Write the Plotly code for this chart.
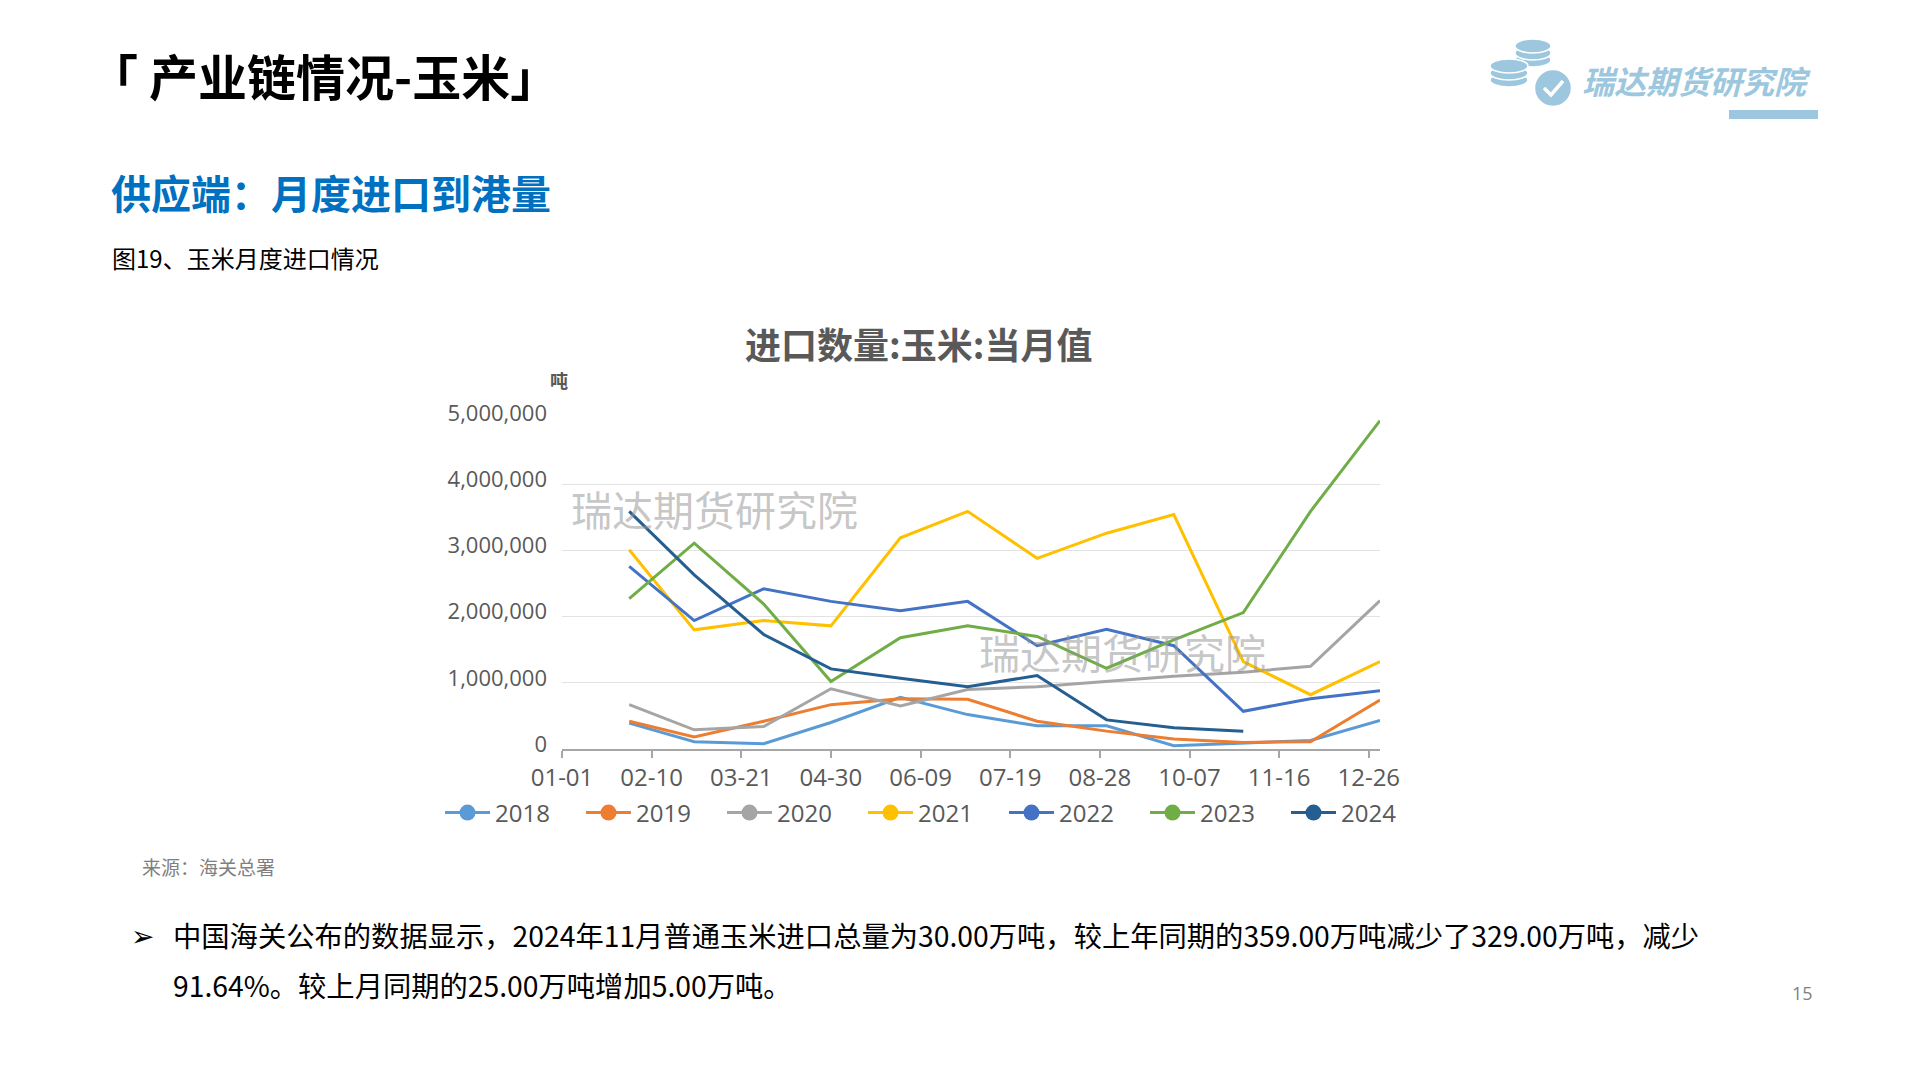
import plotly.graph_objects as go

# ---------------- data ----------------
months = ["2024-01-31", "2024-02-29", "2024-03-31", "2024-04-30", "2024-05-31", "2024-06-30",
          "2024-07-31", "2024-08-31", "2024-09-30", "2024-10-31", "2024-11-30", "2024-12-31"]

y2018 = [390000, 110000, 80000, 400000, 780000, 520000, 350000, 350000, 50000, 90000, 130000, 430000]
y2019 = [420000, 180000, 420000, 670000, 760000, 750000, 420000, 270000, 150000, 100000, 110000, 740000]
y2020 = [670000, 290000, 340000, 910000, 650000, 900000, 940000, 1020000, 1100000, 1160000, 1250000, 2240000]
y2021 = [3010000, 1800000, 1940000, 1860000, 3190000, 3590000, 2880000, 3260000, 3540000, 1320000, 820000, 1320000]
y2022 = [2760000, 1940000, 2420000, 2230000, 2090000, 2230000, 1560000, 1810000, 1560000, 570000, 760000, 880000]
y2023 = [2270000, 3110000, 2190000, 1020000, 1680000, 1860000, 1700000, 1220000, 1650000, 2060000, 3590000, 4960000]
y2024 = [3590000, 2630000, 1730000, 1210000, 1070000, 940000, 1110000, 440000, 320000, 270000, None, None]

series_names = ["2018", "2019", "2020", "2021", "2022", "2023", "2024"]
series_vals = [y2018, y2019, y2020, y2021, y2022, y2023, y2024]
colors = ["#5B9BD5", "#ED7D31", "#A5A5A5", "#FFC000", "#4472C4", "#70AD47", "#255E91"]

# ---------------- layout geometry (pixels) ----------------
W, H = 1920, 1080
L, R, T, B = 562, 1380, 418, 749


def px(x):
    return (x - L) / (R - L)


def py(y):
    return (B - y) / (B - T)


CJK = "Noto Sans CJK SC"
NUM = "Open Sans"

fig = go.Figure()

for name, vals, c in zip(series_names, series_vals, colors):
    fig.add_trace(go.Scatter(
        x=months, y=vals, mode="lines", name=name, legendgroup=name,
        line=dict(color=c, width=3), showlegend=False, connectgaps=False,
        hoverinfo="x+y+name"))
    # legend entry (line + dot)
    fig.add_trace(go.Scatter(
        x=[None], y=[None], mode="lines+markers", name=name, legendgroup=name,
        line=dict(color=c, width=3), marker=dict(color=c, size=16),
        showlegend=True))

annotations = []


def add_text(text, x, y, size, color, xanchor="left", family=CJK, weight="normal", style="normal"):
    annotations.append(dict(
        text=text, x=px(x), y=py(y), xref="paper", yref="paper",
        xanchor=xanchor, yanchor="middle", showarrow=False,
        font=dict(family=family, size=size, color=color, weight=weight, style=style)))


# page headings
add_text("「 产业链情况-玉米」", 87, 75, 49, "#000000", weight="bold")
add_text("供应端：月度进口到港量", 109, 192, 40, "#0070C0", weight="bold")
add_text("图19、玉米月度进口情况", 110, 257, 24, "#000000")

# chart title and unit
add_text("进口数量:玉米:当月值", 918, 343, 36, "#595959", xanchor="center", weight="bold")
add_text("吨", 559, 380, 18, "#595959", xanchor="center", weight="bold")

# watermarks
add_text("瑞达期货研究院", 714, 508, 41, "rgba(150,150,150,0.55)", xanchor="center")
add_text("瑞达期货研究院", 1122, 651, 41, "rgba(150,150,150,0.55)", xanchor="center")

# source + bullet text
add_text("来源：海关总署", 140, 866, 19, "#7F7F7F")
add_text("➢", 129, 934, 28, "#000000")
add_text("中国海关公布的数据显示，2024年11月普通玉米进口总量为30.00万吨，较上年同期的359.00万吨减少了329.00万吨，减少",
         171, 934, 28.3, "#000000")
add_text("91.64%。较上月同期的25.00万吨增加5.00万吨。", 171, 984, 28.3, "#000000")
add_text("15", 1802, 993, 18, "#7F7F7F", xanchor="center", family=NUM)

# logo text
LOGO = "#9CC7DE"
add_text("瑞达期货研究院", 1696, 80, 32, LOGO, xanchor="center", weight="bold", style="italic")

shapes = []


def ellipse(x0, y0, x1, y1, fill, line="white", lw=1.5):
    shapes.append(dict(type="circle", xref="paper", yref="paper",
                       x0=px(x0), x1=px(x1), y0=py(y1), y1=py(y0),
                       fillcolor=fill, line=dict(color=line, width=lw), layer="above"))


# top coin stack
for cy in [60, 53, 46]:
    ellipse(1515, cy - 7, 1551, cy + 7, LOGO)
# left coin stack
for cy in [80, 73, 66]:
    ellipse(1490, cy - 7, 1528, cy + 7, LOGO)
# check circle
ellipse(1534, 69, 1572, 107, LOGO, lw=2.5)
chk = [(1544, 88), (1551, 95), (1563, 81)]
path = "M {} {} L {} {} L {} {}".format(px(chk[0][0]), py(chk[0][1]), px(chk[1][0]), py(chk[1][1]),
                                       px(chk[2][0]), py(chk[2][1]))
shapes.append(dict(type="path", xref="paper", yref="paper", path=path,
                   line=dict(color="white", width=3.5), layer="above"))
# logo underline bar
shapes.append(dict(type="rect", xref="paper", yref="paper",
                   x0=px(1729), x1=px(1818), y0=py(119), y1=py(110),
                   fillcolor=LOGO, line=dict(width=0), layer="above"))

fig.update_layout(
    width=W, height=H,
    margin=dict(l=L, r=W - R, t=T, b=H - B, pad=0),
    paper_bgcolor="white", plot_bgcolor="white",
    annotations=annotations, shapes=shapes,
    showlegend=True,
    legend=dict(orientation="h", x=px(440), y=py(813), xanchor="left", yanchor="middle",
                entrywidth=81, entrywidthmode="pixels", itemwidth=45,
                font=dict(family=NUM, size=24, color="#595959"),
                bgcolor="rgba(0,0,0,0)", tracegroupgap=0),
    xaxis=dict(
        type="date", range=["2024-01-01", "2024-12-31"],
        tick0="2024-01-01", dtick=40 * 86400000, tickformat="%m-%d",
        showline=True, linecolor="#A6A6A6", linewidth=2,
        ticks="outside", ticklen=7, tickwidth=2, tickcolor="#A6A6A6",
        showgrid=False, zeroline=False,
        ticklabelstandoff=-1,
        tickfont=dict(family=NUM, size=24, color="#595959"),
    ),
    yaxis=dict(
        range=[0, 5000000], dtick=1000000, tickformat=",d",
        showgrid=True, gridcolor="#E3E3E3", gridwidth=1,
        showline=False, zeroline=False, ticks="",
        ticklabelstandoff=14, ticklabelshift=-5,
        tickfont=dict(family=NUM, size=22, color="#595959"),
    ),
)

fig.write_html("out.html")
